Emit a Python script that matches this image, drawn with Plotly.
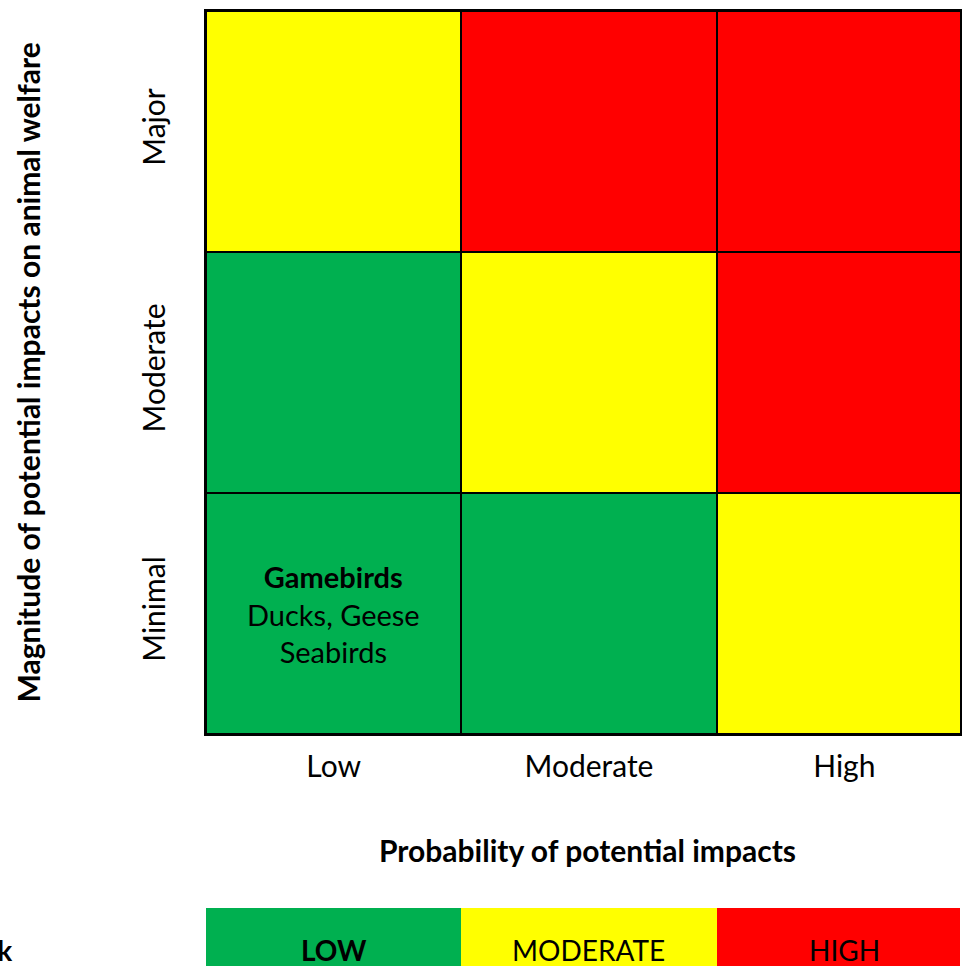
import plotly.graph_objects as go

# Axes of the matrix
probability = ["Low", "Moderate", "High"]
magnitude = ["Minimal", "Moderate", "Major"]          # bottom -> top

# Risk level per cell: 0 = low, 1 = moderate, 2 = high (rows follow `magnitude`)
risk_matrix = [
    [0, 0, 1],   # Minimal
    [0, 1, 2],   # Moderate
    [1, 2, 2],   # Major
]

risk_labels = ["LOW", "MODERATE", "HIGH"]
risk_colors = ["#00B050", "#FFFF00", "#FF0000"]

# Species groups placed in the matrix: (probability index, magnitude index, lines)
cell_notes = [
    (0, 0, ["<b>Gamebirds</b>", "Ducks, Geese", "Seabirds"]),
]

FONT = "Lato"
W, H = 962, 966
L, T = 206, 11
grid_bottom = 734
key_top = 908
key_row_h = 84

plot_h = H - T
main_dom = [(H - grid_bottom) / plot_h, 1]
key_dom = [0, (H - key_top) / plot_h]
key_visible = (H - key_top) / key_row_h

colorscale = [[0, risk_colors[0]], [0.5, risk_colors[1]], [1, risk_colors[2]]]
xs = list(range(len(probability)))
ys = list(range(len(magnitude)))

fig = go.Figure()
fig.add_trace(go.Heatmap(
    x=xs, y=ys, z=risk_matrix, zmin=0, zmax=2, colorscale=colorscale,
    showscale=False, xgap=2, ygap=2, hoverinfo="skip",
    xaxis="x", yaxis="y",
))
fig.add_trace(go.Heatmap(
    x=xs, y=[0], z=[list(range(len(risk_labels)))], zmin=0, zmax=2,
    colorscale=colorscale, showscale=False, hoverinfo="skip",
    xaxis="x2", yaxis="y2",
))

col_w = 256
x_hi = -0.5 + (W - L) / col_w

fig.update_layout(
    width=W, height=H,
    margin=dict(l=L, r=0, t=T, b=0),
    paper_bgcolor="white", plot_bgcolor="black",
    font=dict(family=FONT, color="black"),
    xaxis=dict(
        domain=[0, 1], range=[-0.5, x_hi], anchor="y",
        tickvals=xs, ticktext=probability, tickfont=dict(size=30),
        ticks="", ticklabelstandoff=5, showgrid=False, zeroline=False,
        showline=True, linecolor="black", linewidth=2, mirror=True,
    ),
    yaxis=dict(
        domain=main_dom, range=[-0.5, 2.5], anchor="x",
        tickvals=ys, ticktext=magnitude, tickfont=dict(size=30),
        tickangle=-90, ticks="", ticklabelstandoff=27,
        showgrid=False, zeroline=False,
        showline=True, linecolor="black", linewidth=2, mirror=True,
    ),
    xaxis2=dict(
        domain=[0, 1], range=[-0.5, x_hi], anchor="y2", matches="x",
        visible=False,
    ),
    yaxis2=dict(
        domain=key_dom, range=[0.5 - key_visible, 0.5], anchor="x2",
        visible=False,
    ),
)

# Species groups inside the matrix
for xi, yi, lines in cell_notes:
    fig.add_annotation(
        x=xi, y=yi, xref="x", yref="y", text="<br>".join(lines),
        showarrow=False, font=dict(size=29), align="center",
        xanchor="center", yanchor="middle",
    )

# Risk key labels
for i, lab in enumerate(risk_labels):
    fig.add_annotation(
        x=i, y=0, xref="x2", yref="y2",
        text=f"<b>{lab}</b>" if i == 0 else lab,
        showarrow=False, font=dict(size=28),
        xanchor="center", yanchor="middle",
    )

# Axis titles
fig.add_annotation(
    x=(589 - L) / (W - L), y=(H - 850) / plot_h, xref="paper", yref="paper",
    xanchor="center", yanchor="middle",
    text="<b>Probability of potential impacts</b>", showarrow=False,
    font=dict(size=30),
)
fig.add_annotation(
    x=(28 - L) / (W - L), y=(H - 372) / plot_h, xref="paper", yref="paper",
    xanchor="center", yanchor="middle",
    text="<b>Magnitude of potential impacts on animal welfare</b>",
    textangle=-90, showarrow=False, font=dict(size=30),
)
fig.add_annotation(
    x=(13 - L) / (W - L), y=(H - 950) / plot_h, xref="paper", yref="paper",
    xanchor="right", yanchor="middle", text="<b>Risk</b>",
    showarrow=False, font=dict(size=28),
)

fig.write_html("out.html")
